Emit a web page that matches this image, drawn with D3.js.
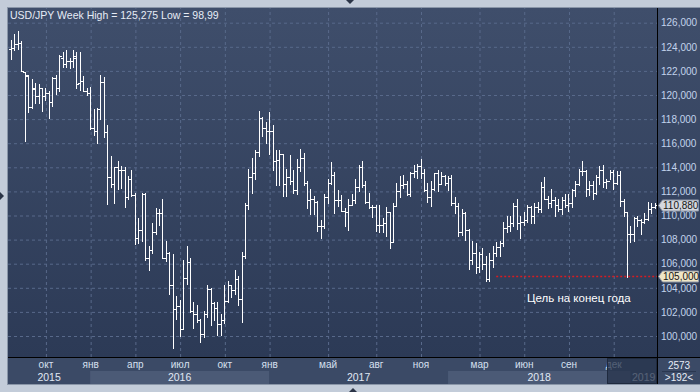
<!DOCTYPE html>
<html>
<head>
<meta charset="utf-8">
<script src="https://cdn.jsdelivr.net/npm/d3@7"></script>
<style>
  body { margin: 0; background: #c3ccd9; }
  svg { display: block; font-family: "Liberation Sans", Arial, sans-serif; }
</style>
</head>
<body>
<div id="chart"></div>
<script>
// weekly bars, first week starts on this monday
const firstWeek = "2015-07-27";

const opens = [
  123.8, 123.9, 124.2, 124.3, 121.9, 121.6, 119.0, 120.5, 119.9, 120.6, 119.9, 120.2, 119.4, 121.4, 120.6, 123.1, 122.6, 122.8, 122.8, 123.2, 121.0, 121.2, 120.3,
  120.2, 117.3, 117.0, 118.8, 121.1, 116.9, 113.2, 112.6, 114.0, 113.8, 113.8, 111.5, 113.0, 111.7, 108.1, 108.8, 111.8, 106.5, 107.1, 108.6, 110.2, 110.2, 106.5, 106.9, 104.2, 102.2, 102.5, 100.6, 104.8, 106.1, 102.1, 101.8, 101.3, 100.2, 101.8, 103.9, 102.7, 102.3, 101.0, 101.3, 102.9, 104.2, 103.8, 104.7, 103.1, 106.6, 110.9, 113.2, 113.5, 115.3, 118.1, 117.3,
  117.0, 117.0, 114.5, 114.6, 115.1, 112.6, 113.2, 112.9, 112.1, 114.0, 114.8, 112.7, 111.3, 111.4, 111.1, 109.1, 109.1, 111.5, 112.7, 113.4, 111.3, 111.3, 110.4, 110.3, 110.9, 111.3, 112.4, 114.0, 112.5, 111.1, 110.7, 110.7, 109.2, 109.2, 109.4, 110.3, 107.8, 110.8, 112.0, 112.5, 112.6, 111.8, 113.5, 113.7, 114.1, 113.5, 112.1, 111.5, 112.2, 113.5, 112.6, 113.3,
  112.7, 113.1, 111.0, 110.8, 108.6, 110.2, 108.8, 106.3, 106.9, 105.7, 106.8, 106.0, 104.7, 106.3, 106.9, 107.4, 107.7, 109.0, 109.1, 109.4, 110.8, 109.4, 109.5, 109.6, 110.7, 110.0, 110.7, 110.5, 112.4, 111.4, 111.0, 111.3, 110.9, 110.5, 111.3, 110.9, 111.0, 112.1, 112.6, 113.7, 113.7, 112.2, 112.5, 111.9, 113.2, 113.8, 112.8, 112.9, 113.6, 112.7, 113.4, 111.2,
  110.3, 108.5, 108.5, 109.8, 109.6, 109.5, 109.7, 110.5, 110.7
];
const highs = [
  124.6, 125.1, 125.275, 124.5, 121.9, 121.7, 121.3, 121.0, 120.9, 120.6, 120.6, 120.3, 121.5, 121.7, 123.3, 123.6, 123.75, 123.1, 123.7, 123.6, 123.6, 121.6, 120.6,
  120.7, 118.8, 118.9, 121.7, 121.5, 117.5, 114.9, 114.0, 114.5, 114.1, 114.0, 113.3, 113.8, 111.9, 109.8, 111.9, 111.9, 107.5, 109.4, 110.6, 110.5, 111.4, 107.9, 107.0, 106.8, 103.3, 103.0, 106.3, 107.5, 106.5, 102.8, 102.6, 101.4, 102.1, 104.2, 104.0, 102.8, 102.8, 101.8, 104.2, 104.6, 104.2, 105.5, 105.0, 107.0, 111.0, 113.9, 114.8, 115.4, 118.66, 118.2, 117.8,
  118.6, 117.5, 115.4, 115.4, 115.1, 113.9, 115.0, 113.8, 114.7, 115.5, 115.2, 112.9, 112.2, 111.6, 111.2, 109.6, 111.8, 113.0, 114.4, 113.6, 112.1, 111.7, 110.6, 111.4, 111.8, 113.0, 114.2, 114.5, 112.9, 111.9, 110.9, 110.9, 110.9, 109.8, 110.7, 110.3, 111.0, 112.7, 113.3, 113.4, 112.9, 113.6, 114.2, 114.3, 114.7, 113.9, 112.7, 112.9, 113.5, 113.8, 113.6, 113.4,
  113.3, 113.4, 111.5, 111.0, 110.5, 110.3, 108.9, 107.9, 107.7, 107.0, 107.3, 106.6, 106.9, 107.5, 107.8, 107.9, 109.5, 110.0, 110.0, 111.0, 111.4, 110.0, 110.3, 110.9, 110.8, 111.0, 111.1, 112.8, 113.2, 111.6, 112.2, 111.5, 111.4, 111.5, 111.8, 111.8, 112.2, 112.9, 113.9, 114.55, 113.8, 112.9, 112.9, 113.4, 114.1, 114.2, 113.0, 113.8, 113.8, 113.7, 113.7, 111.4,
  110.3, 109.1, 109.9, 110.0, 109.7, 110.2, 111.1, 111.0, 111.0
];
const lows = [
  123.0, 123.7, 123.8, 122.0, 116.2, 118.6, 118.9, 119.3, 119.3, 118.7, 119.6, 118.1, 119.1, 120.1, 120.3, 122.3, 122.3, 122.2, 122.3, 120.6, 120.4, 120.3, 120.0,
  117.2, 116.7, 115.98, 118.0, 116.5, 110.98, 112.4, 111.0, 112.2, 112.3, 110.7, 111.4, 111.6, 107.6, 107.7, 107.9, 106.3, 105.5, 106.9, 108.5, 109.2, 106.5, 106.2, 103.5, 98.99, 101.4, 99.99, 100.6, 104.3, 102.0, 100.7, 101.2, 99.5, 99.9, 101.6, 100.9, 101.3, 100.1, 100.1, 101.1, 102.8, 103.2, 103.5, 102.6, 101.2, 106.5, 110.5, 111.9, 113.0, 114.9, 116.6, 116.0,
  115.1, 113.8, 112.5, 112.5, 111.6, 111.6, 112.6, 111.9, 111.8, 113.7, 112.5, 110.6, 110.1, 110.1, 108.7, 108.1, 109.0, 111.0, 112.6, 110.2, 110.8, 110.4, 109.1, 108.8, 110.9, 111.0, 112.0, 112.4, 111.0, 110.6, 109.9, 108.7, 108.6, 108.6, 108.3, 107.3, 107.8, 110.8, 111.5, 112.3, 111.7, 111.6, 113.2, 113.1, 113.1, 112.0, 111.1, 110.8, 112.1, 112.0, 112.6, 112.5,
  112.1, 110.9, 110.2, 108.3, 108.4, 108.0, 105.55, 106.0, 105.2, 105.3, 105.6, 104.6, 104.6, 105.7, 106.6, 106.6, 107.5, 108.6, 108.7, 109.1, 108.9, 108.1, 109.2, 109.5, 109.4, 109.4, 110.3, 110.3, 111.4, 110.6, 110.7, 110.0, 110.4, 110.1, 110.7, 110.4, 110.7, 111.6, 112.5, 113.4, 111.6, 111.7, 111.4, 111.8, 112.6, 112.4, 112.3, 113.0, 112.2, 112.6, 110.8, 110.0,
  104.9, 107.8, 107.9, 109.1, 108.5, 109.4, 109.6, 110.2, 110.6
];
const closes = [
  123.9, 124.2, 124.3, 122.0, 121.7, 119.0, 120.6, 119.9, 120.6, 119.9, 120.2, 119.4, 121.4, 120.6, 123.2, 122.6, 122.8, 122.8, 123.1, 120.9, 121.2, 120.3, 120.2,
  117.3, 117.0, 118.8, 121.1, 116.9, 113.2, 112.6, 114.0, 113.8, 113.8, 111.5, 113.0, 111.7, 108.1, 108.8, 111.8, 106.5, 107.1, 108.6, 110.2, 110.2, 106.5, 106.9, 104.2, 102.2, 102.5, 100.6, 104.8, 106.1, 102.1, 101.8, 101.3, 100.2, 101.8, 103.9, 102.7, 102.3, 101.0, 101.3, 102.9, 104.2, 103.8, 104.7, 103.1, 106.6, 110.9, 113.2, 113.5, 115.3, 118.1, 117.3, 117.0,
  117.0, 114.5, 114.6, 115.1, 112.6, 113.2, 112.9, 112.1, 114.0, 114.8, 112.7, 111.3, 111.4, 111.1, 109.1, 109.1, 111.5, 112.7, 113.4, 111.3, 111.3, 110.4, 110.3, 110.9, 111.3, 112.4, 114.0, 112.5, 111.1, 110.7, 110.7, 109.2, 109.2, 109.4, 110.3, 107.8, 110.8, 112.0, 112.5, 112.6, 111.8, 113.5, 113.7, 114.1, 113.5, 112.1, 111.5, 112.2, 113.5, 112.6, 113.3, 112.7,
  113.1, 111.0, 110.8, 108.6, 110.2, 108.8, 106.3, 106.9, 105.7, 106.8, 106.0, 104.7, 106.3, 106.9, 107.4, 107.7, 109.0, 109.1, 109.4, 110.8, 109.4, 109.5, 109.6, 110.7, 110.0, 110.7, 110.5, 112.4, 111.4, 111.0, 111.3, 110.9, 110.5, 111.3, 110.9, 111.0, 112.1, 112.6, 113.7, 113.7, 112.2, 112.5, 111.9, 113.2, 113.8, 112.8, 112.9, 113.6, 112.7, 113.4, 111.2, 110.3,
  108.5, 108.5, 109.8, 109.6, 109.5, 109.7, 110.5, 110.7, 110.88
];

const yTicks = [100, 102, 104, 106, 108, 110, 112, 114, 116, 118, 120, 122, 124, 126];
const monthTicks = ["2015-10-05", "2016-01-04", "2016-04-04", "2016-07-04", "2016-10-03", "2017-01-02",
  "2017-05-01", "2017-08-07", "2017-11-06", "2018-03-05", "2018-06-04", "2018-09-03", "2018-12-03"];
const monthLabels = ["окт", "янв", "апр", "июл", "окт", "янв", "май", "авг", "ноя", "мар", "июн", "сен", "дек"];
const years = ["2015", "2016", "2017", "2018", "2019"];

const title = "USD/JPY Week High = 125,275 Low = 98,99";
const lastPrice = 110.88;
const targetLevel = 105;
const targetFrom = "2018-04-09";
const targetText = "Цель на конец года";

// layout
const W = 700, H = 392;
const plot = {left: 8, right: 657, top: 8, bottom: 357};
const axisBottomY = 384;

const parse = d3.timeParse("%Y-%m-%d");
const start = parse(firstWeek);
const data = opens.map((o, i) => ({
  date: d3.timeWeek.offset(start, i),
  open: o, high: highs[i], low: lows[i], close: closes[i]
}));

const svg = d3.select("#chart").append("svg")
  .attr("width", W).attr("height", H);

const defs = svg.append("defs");
const grad = defs.append("linearGradient").attr("id", "bg").attr("x1", 0).attr("y1", 0).attr("x2", 0).attr("y2", 1);
grad.append("stop").attr("offset", "0%").attr("stop-color", "#3f4e6b");
grad.append("stop").attr("offset", "100%").attr("stop-color", "#2c3a56");

// outer frame
svg.append("rect").attr("x", 0).attr("y", 0).attr("width", W).attr("height", H).attr("fill", "#c3ccd9");
svg.append("rect").attr("x", 7).attr("y", 7).attr("width", W - 7).attr("height", axisBottomY - 6)
  .attr("fill", "#8a96a8");
svg.append("rect").attr("x", 8).attr("y", 8).attr("width", W - 8).attr("height", plot.bottom - 8)
  .attr("fill", "url(#bg)");

// bottom axis panel
svg.append("rect").attr("x", 8).attr("y", plot.bottom).attr("width", W - 8).attr("height", axisBottomY - plot.bottom)
  .attr("fill", "#3b4a66");

const x = d3.scaleTime()
  .domain([data[0].date, data[data.length - 1].date])
  .range([11, 654.5]);
const y = d3.scaleLinear()
  .domain([100, 126])
  .range([336, 22.7]);

// year bands in lower row
const yearStarts = years.map(yy => {
  const d = data.find(b => b.date >= new Date(+yy, 0, 1));
  return d ? d.date : data[0].date;
});
const yearSpans = years.map((yy, i) => {
  const a = i === 0 ? plot.left : x(yearStarts[i]);
  const b = i === years.length - 1 ? plot.right : x(yearStarts[i + 1]);
  return {year: yy, a, b, i};
});
svg.append("g").selectAll("rect").data(yearSpans.filter(s => s.i % 2 === 1)).join("rect")
  .attr("x", d => d.a).attr("y", 371).attr("width", d => d.b - d.a).attr("height", axisBottomY - 371)
  .attr("fill", "#4b5a76");

// grid
svg.append("g")
  .attr("transform", `translate(${plot.left},0)`)
  .call(d3.axisLeft(y).tickValues(yTicks).tickSize(-(plot.right - plot.left)).tickFormat(""))
  .call(g => g.select(".domain").remove())
  .call(g => g.selectAll("line").attr("stroke", "#58698a").attr("stroke-dasharray", "3,3"));

svg.append("g")
  .attr("transform", `translate(0,${plot.bottom})`)
  .call(d3.axisBottom(x).tickValues(monthTicks.map(parse)).tickSize(-(plot.bottom - plot.top)).tickFormat(""))
  .call(g => g.select(".domain").remove())
  .call(g => g.selectAll("line").attr("stroke", "#58698a").attr("stroke-dasharray", "3,3")
    .attr("transform", "translate(0.5,0)"));

// OHLC bars: 1px high-low stem, 2px open / close ticks
const bars = svg.append("g").attr("fill", "#ffffff");
bars.selectAll(".hl").data(data).join("rect")
  .attr("x", d => Math.round(x(d.date)))
  .attr("y", d => Math.round(y(d.high)))
  .attr("width", 1)
  .attr("height", d => Math.max(1, Math.round(y(d.low)) - Math.round(y(d.high)) + 1));
bars.selectAll(".op").data(data).join("rect")
  .attr("x", d => Math.round(x(d.date)) - 2)
  .attr("y", d => Math.round(y(d.open)))
  .attr("width", 2).attr("height", 1);
bars.selectAll(".cl").data(data).join("rect")
  .attr("x", d => Math.round(x(d.date)) + 1)
  .attr("y", d => Math.round(y(d.close)))
  .attr("width", 2).attr("height", 1);

// target line
svg.append("line")
  .attr("x1", x(parse(targetFrom))).attr("x2", plot.right)
  .attr("y1", Math.round(y(targetLevel)) + 0.5).attr("y2", Math.round(y(targetLevel)) + 0.5)
  .attr("stroke", "#d81c22").attr("stroke-width", 1.5).attr("stroke-dasharray", "2,2");

svg.append("text")
  .attr("x", 527).attr("y", 302)
  .attr("fill", "#ffffff").attr("font-size", 11.5)
  .text(targetText);

// title
svg.append("text")
  .attr("x", 10).attr("y", 19)
  .attr("fill", "#e6ecf6").attr("font-size", 10.5)
  .text(title);

// separators
svg.append("line").attr("x1", plot.right + 0.5).attr("x2", plot.right + 0.5).attr("y1", 8).attr("y2", axisBottomY)
  .attr("stroke", "#000");
svg.append("line").attr("x1", 8).attr("x2", W).attr("y1", plot.bottom + 0.5).attr("y2", plot.bottom + 0.5)
  .attr("stroke", "#000");

// right axis labels
const fmt = v => d3.format(".3f")(v).replace(".", ",");
svg.append("g")
  .attr("transform", `translate(${plot.right + 1},0)`)
  .call(d3.axisRight(y).tickValues(yTicks).tickSize(0).tickPadding(3).tickFormat(fmt))
  .call(g => g.select(".domain").remove())
  .call(g => g.selectAll("text").attr("fill", "#c2d3ec").attr("font-size", 10)
    .attr("font-family", "Liberation Sans, Arial, sans-serif"));

// month labels
svg.append("g")
  .attr("transform", `translate(0,${plot.bottom + 1})`)
  .call(d3.axisBottom(x).tickValues(monthTicks.map(parse)).tickSize(0).tickPadding(3)
    .tickFormat((d, i) => monthLabels[i]))
  .call(g => g.select(".domain").remove())
  .call(g => g.selectAll("text").attr("fill", "#d6e0f0").attr("font-size", 10)
    .attr("font-family", "Liberation Sans, Arial, sans-serif"));

// year labels
svg.append("g").selectAll("text").data(yearSpans).join("text")
  .attr("x", d => (d.a + d.b) / 2).attr("y", 381)
  .attr("text-anchor", "middle")
  .attr("fill", "#e0e8f4").attr("font-size", 10.5)
  .text(d => d.year);

// dimmed strip at the right end of the time axis
svg.append("rect")
  .attr("x", 607.5).attr("y", plot.bottom + 1.5).attr("width", plot.right - 608).attr("height", axisBottomY - plot.bottom - 2)
  .attr("fill", "#27344c").attr("fill-opacity", 0.75).attr("stroke", "#1f2a3e");

// corner cell
svg.append("text").attr("x", 679).attr("y", 369).attr("text-anchor", "middle")
  .attr("fill", "#e6ecf6").attr("font-size", 10).text("2573");
svg.append("line").attr("x1", 662).attr("x2", 696).attr("y1", 371.5).attr("y2", 371.5).attr("stroke", "#2a3750");
svg.append("text").attr("x", 679).attr("y", 381).attr("text-anchor", "middle")
  .attr("fill", "#e6ecf6").attr("font-size", 10).text(">192<");

// price tags
function tag(value, fill) {
  const yc = Math.round(y(value)) + 0.5;
  const x0 = plot.right + 1.5, x1 = 698.5;
  svg.append("path")
    .attr("d", `M${x0},${yc} L${x0 + 4},${yc - 5.5} L${x1},${yc - 5.5} L${x1},${yc + 5.5} L${x0 + 4},${yc + 5.5} Z`)
    .attr("fill", fill).attr("stroke", "#8e97a8");
  svg.append("text").attr("x", x0 + 4.5).attr("y", yc + 3.8)
    .attr("fill", "#151515").attr("font-size", 10).text(fmt(value));
}
tag(lastPrice, "#d3d7de");
tag(targetLevel, "#efe6c6");

// splitter markers
svg.append("path").attr("d", "M346,0 L354,0 L350,4 Z").attr("fill", "#2b3447");
svg.append("path").attr("d", "M349,392 L357,392 L353,388 Z").attr("fill", "#2b3447");
svg.append("path").attr("d", "M0,192 L0,200 L4,196 Z").attr("fill", "#2b3447");
</script>
</body>
</html>
